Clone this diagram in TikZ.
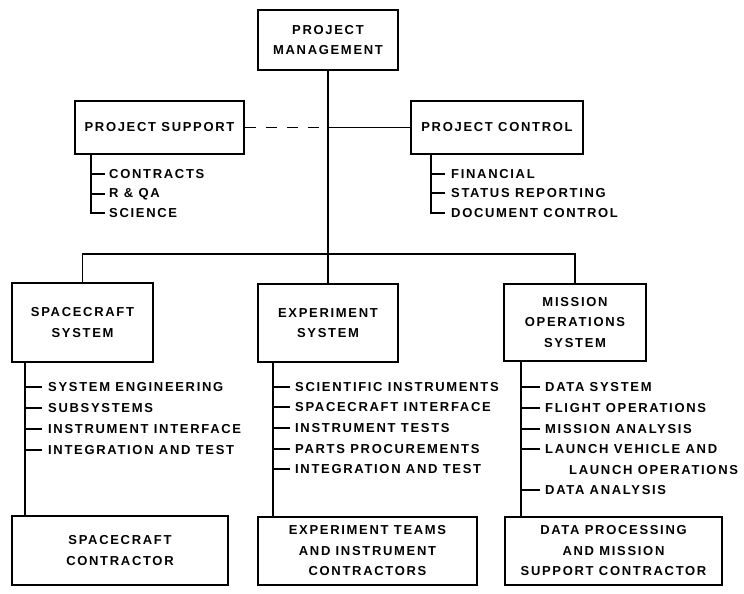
\documentclass[tikz,border=0pt]{standalone}
\usepackage{fontspec}
\setmainfont{Liberation Sans}[LetterSpace=13]
\usepackage{tikz}

\tikzset{
  box/.style={draw, line width=1.9pt, align=center, inner sep=2pt,
    font=\bfseries\fontsize{13}{20.5}\selectfont},
  item/.style={anchor=west, inner sep=0pt, font=\bfseries\fontsize{13}{15}\selectfont},
  link/.style={line width=1.3pt},
}

\begin{document}
\begin{tikzpicture}[x=1pt,y=-1pt]
\useasboundingbox (0,0) rectangle (744,594);

% Boxes
\node[box, minimum width=140, minimum height=60] (pm) at (328,40) {PROJECT\\MANAGEMENT};
\node[box, minimum width=169, minimum height=53] (ps) at (159.5,127.5) {PROJECT SUPPORT};
\node[box, minimum width=172, minimum height=53] (pc) at (497,127.5) {PROJECT CONTROL};
\node[box, minimum width=141, minimum height=79] (ss) at (82.5,322.5) {SPACECRAFT\\SYSTEM};
\node[box, minimum width=140, minimum height=78] (es) at (328,323) {EXPERIMENT\\SYSTEM};
\node[box, minimum width=142, minimum height=77] (mo) at (575,322.5) {MISSION\\OPERATIONS\\SYSTEM};
\node[box, minimum width=216, minimum height=69] (sc) at (120,550.5) {SPACECRAFT\\CONTRACTOR};
\node[box, minimum width=219, minimum height=68] (ec) at (367.5,551) {EXPERIMENT TEAMS\\AND INSTRUMENT\\CONTRACTORS};
\node[box, minimum width=217, minimum height=68] (dc) at (613.5,551) {DATA PROCESSING\\AND MISSION\\SUPPORT CONTRACTOR};

% Staff lines
\coordinate (bus) at (328,254);
\draw[link] (pm.south) -- (es.north);
\draw[link] (ss.north) |- (bus) -| (mo.north);
\draw[link, dash pattern=on 11pt off 10pt] (ps.east) -- (ps.east -| pm.south);
\draw[link] (ps.east -| pm.south) -- (pc.west);

% Project support items
\node[item] (ps1) at (109,174) {CONTRACTS};
\node[item] (ps2) at (109,194) {R \& QA};
\node[item] (ps3) at (109,213) {SCIENCE};
\coordinate (psx) at (91,0);
\draw[link] (psx |- ps.south) |- ([xshift=-4]ps3.west);
\draw[link] (psx |- ps1.west) -- ([xshift=-4]ps1.west);
\draw[link] (psx |- ps2.west) -- ([xshift=-4]ps2.west);

% Project control items
\node[item] (pc1) at (451,174) {FINANCIAL};
\node[item] (pc2) at (451,193) {STATUS REPORTING};
\node[item] (pc3) at (451,213) {DOCUMENT CONTROL};
\coordinate (pcx) at (431,0);
\draw[link] (pcx |- pc.south) |- ([xshift=-6]pc3.west);
\draw[link] (pcx |- pc1.west) -- ([xshift=-6]pc1.west);
\draw[link] (pcx |- pc2.west) -- ([xshift=-6]pc2.west);

% Spacecraft system items
\node[item] (ss1) at (48,387) {SYSTEM ENGINEERING};
\node[item] (ss2) at (48,408) {SUBSYSTEMS};
\node[item] (ss3) at (48,429) {INSTRUMENT INTERFACE};
\node[item] (ss4) at (48,450) {INTEGRATION AND TEST};
\coordinate (ssx) at (25,0);
\draw[link] (ssx |- ss.south) -- (ssx |- sc.north);
\draw[link] (ssx |- ss1.west) -- ([xshift=-6]ss1.west);
\draw[link] (ssx |- ss2.west) -- ([xshift=-6]ss2.west);
\draw[link] (ssx |- ss3.west) -- ([xshift=-6]ss3.west);
\draw[link] (ssx |- ss4.west) -- ([xshift=-6]ss4.west);

% Experiment system items
\node[item] (es1) at (295,387) {SCIENTIFIC INSTRUMENTS};
\node[item] (es2) at (295,407) {SPACECRAFT INTERFACE};
\node[item] (es3) at (295,428) {INSTRUMENT TESTS};
\node[item] (es4) at (295,449) {PARTS PROCUREMENTS};
\node[item] (es5) at (295,469) {INTEGRATION AND TEST};
\coordinate (esx) at (273,0);
\draw[link] (esx |- es.south) -- (esx |- ec.north);
\draw[link] (esx |- es1.west) -- ([xshift=-5]es1.west);
\draw[link] (esx |- es2.west) -- ([xshift=-5]es2.west);
\draw[link] (esx |- es3.west) -- ([xshift=-5]es3.west);
\draw[link] (esx |- es4.west) -- ([xshift=-5]es4.west);
\draw[link] (esx |- es5.west) -- ([xshift=-5]es5.west);

% Mission operations items
\node[item] (mo1) at (545,387) {DATA SYSTEM};
\node[item] (mo2) at (545,408) {FLIGHT OPERATIONS};
\node[item] (mo3) at (545,429) {MISSION ANALYSIS};
\node[item] (mo4) at (545,449) {LAUNCH VEHICLE AND};
\node[item] (mo4b) at (569,470) {LAUNCH OPERATIONS};
\node[item] (mo5) at (545,490) {DATA ANALYSIS};
\coordinate (mox) at (521,0);
\draw[link] (mox |- mo.south) -- (mox |- dc.north);
\draw[link] (mox |- mo1.west) -- ([xshift=-5]mo1.west);
\draw[link] (mox |- mo2.west) -- ([xshift=-5]mo2.west);
\draw[link] (mox |- mo3.west) -- ([xshift=-5]mo3.west);
\draw[link] (mox |- mo4.west) -- ([xshift=-5]mo4.west);
\draw[link] (mox |- mo5.west) -- ([xshift=-5]mo5.west);

\end{tikzpicture}
\end{document}
